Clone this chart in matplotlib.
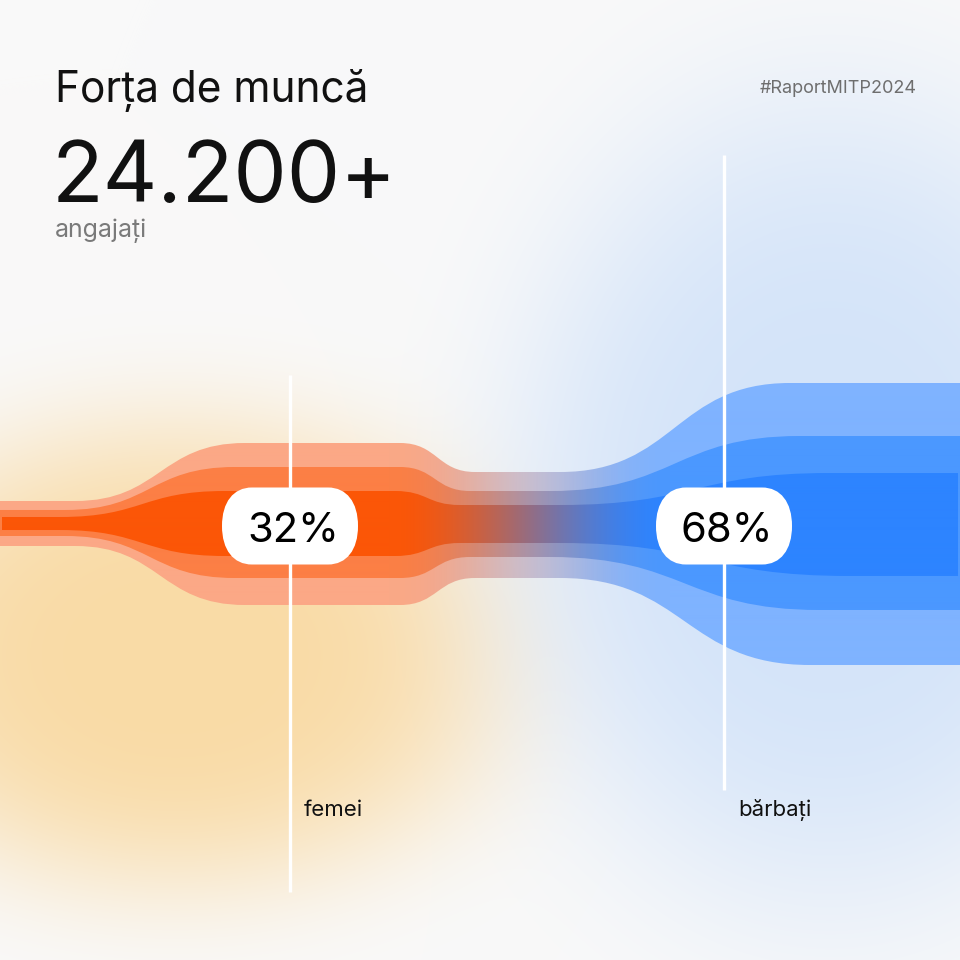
import numpy as np
import matplotlib
matplotlib.use("Agg")
import matplotlib.pyplot as plt
from matplotlib.path import Path
from matplotlib.patches import PathPatch

# ---- content -------------------------------------------------------------
TITLE = "Forța de muncă"
TOTAL = "24.200+"
UNIT = "angajați"
TAG = "#RaportMITP2024"
GROUPS = ["femei", "bărbați"]
SHARES = [32, 68]
GROUP_X = [290, 724]          # marker line positions (px)

# band outlines (x, y) in pixels, top edge and bottom edge, outer -> inner
OUTER_TOP = [(0, 501), (75, 501), (245, 443), (400, 443), (475, 472), (560, 472), (790, 383), (960, 383)]
OUTER_BOT = [(0, 546), (75, 546), (245, 605), (400, 605), (475, 578), (560, 578), (810, 665), (960, 665)]
MID_TOP = [(0, 510), (65, 510), (235, 467), (400, 467), (470, 491), (550, 491), (800, 436), (960, 436)]
MID_BOT = [(0, 536), (65, 536), (235, 578), (400, 578), (470, 557), (550, 557), (820, 610), (960, 610)]
IN_TOP = [(2, 517), (60, 517), (225, 491), (395, 491), (460, 505), (560, 505), (830, 473), (958, 473)]
IN_BOT = [(2, 530), (60, 530), (225, 556), (395, 556), (460, 543), (560, 543), (850, 576), (958, 576)]

LAYERS = [
    (OUTER_TOP, OUTER_BOT, "#fba886", "#7fb3ff", 0.75),
    (MID_TOP, MID_BOT, "#fc7f45", "#4b98ff", 0.85),
    (IN_TOP, IN_BOT, "#fb5607", "#2d84ff", 1.0),
]

W = H = 960


def band_path(top, bot):
    verts, codes = [top[0]], [Path.MOVETO]
    for (x0, y0), (x1, y1) in zip(top[:-1], top[1:]):
        xm = (x0 + x1) / 2
        verts += [(xm, y0), (xm, y1), (x1, y1)]
        codes += [Path.CURVE4] * 3
    rb = bot[::-1]
    verts.append(rb[0]); codes.append(Path.LINETO)
    for (x0, y0), (x1, y1) in zip(rb[:-1], rb[1:]):
        xm = (x0 + x1) / 2
        verts += [(xm, y0), (xm, y1), (x1, y1)]
        codes += [Path.CURVE4] * 3
    verts.append(top[0]); codes.append(Path.CLOSEPOLY)
    return Path(verts, codes)


def pill_path(cx, cy, w, h, rx, ry, k=0.62):
    # rounded box with elliptical (squircle-ish) corners
    l, r, t, b = cx - w / 2, cx + w / 2, cy - h / 2, cy + h / 2
    v = [(l + rx, t), (r - rx, t),
         (r - rx + k * rx, t), (r, t + ry - k * ry), (r, t + ry),
         (r, b - ry),
         (r, b - ry + k * ry), (r - rx + k * rx, b), (r - rx, b),
         (l + rx, b),
         (l + rx - k * rx, b), (l, b - ry + k * ry), (l, b - ry),
         (l, t + ry),
         (l, t + ry - k * ry), (l + rx - k * rx, t), (l + rx, t),
         (l + rx, t)]
    c = ([Path.MOVETO, Path.LINETO] + [Path.CURVE4] * 3 + [Path.LINETO] + [Path.CURVE4] * 3
         + [Path.LINETO] + [Path.CURVE4] * 3 + [Path.LINETO] + [Path.CURVE4] * 3 + [Path.CLOSEPOLY])
    return Path(v, c)


def hex_rgb(h):
    return np.array(matplotlib.colors.to_rgb(h))


def main():
    plt.rcParams["font.family"] = ["Inter", "DejaVu Sans"]
    fig = plt.figure(figsize=(9.6, 9.6), dpi=100)
    ax = fig.add_axes([0, 0, 1, 1])
    ax.set_xlim(0, W)
    ax.set_ylim(H, 0)
    ax.axis("off")

    # soft background glows (flat-topped ellipses)
    Y, X = np.mgrid[0:H, 0:W].astype(float)
    bg = np.ones((H, W, 3)) * hex_rgb("#f9f9f9")

    def glow(cx, cy, rx, ry):
        r2 = ((X - cx) / rx) ** 2 + ((Y - cy) / ry) ** 2
        return np.exp(-0.5 * r2 ** 2)[..., None]

    w = glow(175, 655, 285, 200)
    bg = bg * (1 - w) + hex_rgb("#fadba6") * w
    w = glow(830, 500, 270, 345)
    bg = bg * (1 - w) + hex_rgb("#d4e4fa") * w
    ax.imshow(bg, extent=(0, W, H, 0), zorder=0, interpolation="bilinear")

    # gradient bands
    xs = np.linspace(0, W, W)
    t = np.clip((xs - 390) / (670 - 390), 0, 1)
    t = t * t * (3 - 2 * t)
    for top, bot, c0, c1, amin in LAYERS:
        a, b = hex_rgb(c0), hex_rgb(c1)
        rgba = np.zeros((1, W, 4))
        rgba[0, :, :3] = a[None] * (1 - t[:, None]) + b[None] * t[:, None]
        rgba[0, :, 3] = 1 - (1 - amin) * np.sin(np.pi * t) ** 2
        patch = PathPatch(band_path(top, bot), facecolor="none", edgecolor="none")
        ax.add_patch(patch)
        im = ax.imshow(rgba, extent=(0, W, 700, 350), zorder=2, interpolation="bilinear")
        im.set_clip_path(patch)

    # marker lines
    ax.plot([GROUP_X[0]] * 2, [375, 892], color="white", lw=2.4, zorder=3, solid_capstyle="butt")
    ax.plot([GROUP_X[1]] * 2, [155, 790], color="white", lw=2.4, zorder=3, solid_capstyle="butt")

    # share pills
    for gx, s in zip(GROUP_X, SHARES):
        ax.add_patch(PathPatch(pill_path(gx, 526, 136, 77, 30, 38.5),
                               facecolor="white", edgecolor="none", zorder=4))
        ax.text(gx + 3, 527, f"{s}%", fontsize=30, ha="center", va="center_baseline",
                color="black", zorder=5)

    # group labels
    for gx, g in zip(GROUP_X, GROUPS):
        ax.text(gx + 14, 816, g, fontsize=16, ha="left", va="baseline", color="#111111", zorder=5)

    # headings
    ax.text(55, 102, TITLE, fontsize=30.5, ha="left", va="baseline", color="#111111")
    ax.text(52, 202, TOTAL, fontsize=61, ha="left", va="baseline", color="#111111")
    ax.text(55, 237, UNIT, fontsize=18, ha="left", va="baseline", color="#7a7a7a")
    ax.text(917, 93, TAG, fontsize=13, ha="right", va="baseline", color="#6e6e6e")

    fig.savefig("out.png", dpi=100)


if __name__ == "__main__":
    main()
